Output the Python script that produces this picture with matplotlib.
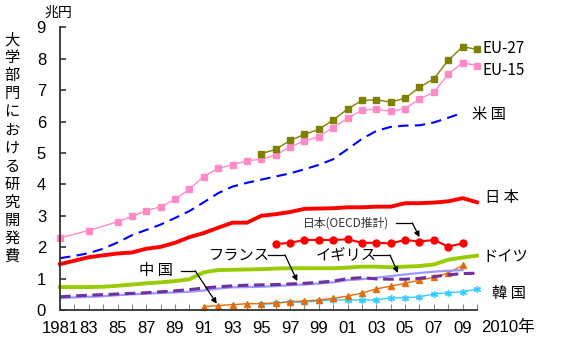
import matplotlib
matplotlib.use("Agg")
import matplotlib.pyplot as plt

plt.rcParams['font.family'] = ['Noto Sans CJK JP', 'DejaVu Sans']
NUM_FONT = ['Liberation Sans Narrow', 'Liberation Sans', 'Noto Sans CJK JP']

# --- data (兆円) ---
eu15_years = [1981, 1983] + list(range(1985, 2011))
eu15 = [2.30, 2.53, 2.81, 2.98, 3.16, 3.29, 3.52, 3.85, 4.25, 4.51, 4.62, 4.75, 4.80, 4.93,
        5.19, 5.38, 5.52, 5.81, 6.10, 6.37, 6.39, 6.33, 6.41, 6.72, 6.93, 7.51, 7.87, 7.78]

eu27_years = list(range(1995, 2011))
eu27 = [4.98, 5.11, 5.40, 5.59, 5.75, 6.05, 6.40, 6.67, 6.69, 6.62, 6.74, 7.09, 7.36, 7.95, 8.38, 8.30]

us_years = list(range(1981, 2010))
us = [1.65, 1.72, 1.81, 1.95, 2.15, 2.38, 2.55, 2.72, 2.93, 3.15, 3.43, 3.72, 3.93, 4.05, 4.15,
      4.25, 4.35, 4.48, 4.62, 4.80, 5.12, 5.45, 5.70, 5.83, 5.87, 5.88, 5.97, 6.12, 6.28]

jp_years = list(range(1981, 2011))
jp = [1.46, 1.57, 1.68, 1.74, 1.80, 1.83, 1.95, 2.01, 2.14, 2.32, 2.45, 2.62, 2.78, 2.78, 3.00,
      3.05, 3.12, 3.22, 3.23, 3.24, 3.27, 3.27, 3.29, 3.29, 3.40, 3.40, 3.42, 3.46, 3.56, 3.43]

jp_oecd_years = list(range(1996, 2010))
jp_oecd = [2.10, 2.14, 2.23, 2.23, 2.23, 2.25, 2.14, 2.14, 2.12, 2.23, 2.18, 2.23, 2.02, 2.12]

de_years = list(range(1981, 2011))
de = [0.73, 0.73, 0.73, 0.74, 0.77, 0.81, 0.85, 0.88, 0.92, 0.98, 1.20, 1.27, 1.28, 1.29, 1.30,
      1.32, 1.33, 1.33, 1.33, 1.33, 1.35, 1.38, 1.38, 1.36, 1.38, 1.40, 1.45, 1.60, 1.67, 1.73]

fr_years = list(range(1981, 2011))
fr = [0.42, 0.45, 0.47, 0.49, 0.51, 0.53, 0.55, 0.58, 0.61, 0.65, 0.70, 0.74, 0.77, 0.79, 0.80,
      0.81, 0.83, 0.85, 0.88, 0.92, 1.00, 1.03, 0.99, 0.98, 0.98, 1.01, 1.06, 1.12, 1.16, 1.17]

uk_years = list(range(1981, 2010))
uk = [0.38, 0.40, 0.42, 0.44, 0.47, 0.50, 0.52, 0.54, 0.56, 0.58, 0.62, 0.68, 0.72, 0.73, 0.74,
      0.76, 0.79, 0.81, 0.84, 0.88, 0.95, 0.98, 1.03, 1.08, 1.13, 1.18, 1.22, 1.25, 1.27]

cn_years = list(range(1991, 2010))
cn = [0.11, 0.14, 0.17, 0.20, 0.20, 0.23, 0.26, 0.29, 0.32, 0.37, 0.44, 0.54, 0.67, 0.76, 0.85,
      0.95, 1.04, 1.18, 1.42]

kr_years = list(range(1995, 2011))
kr = [0.18, 0.21, 0.26, 0.24, 0.29, 0.32, 0.32, 0.32, 0.32, 0.39, 0.39, 0.42, 0.51, 0.55, 0.58, 0.66]

xtick_years = list(range(1981, 2010, 2))
xtick_labels = ["1981"] + [f"{y % 100:02d}" for y in xtick_years[1:]]

fig = plt.figure(figsize=(5.7, 3.5), dpi=100)
ax = fig.add_axes([60 / 570, 40 / 350, 417 / 570, 282.7 / 350])

kw = dict(clip_on=False)
ax.plot(kr_years, kr, color="#33CCFF", lw=1, marker=(6, 2, 0), ms=5, mew=1, **kw)
ax.plot(cn_years, cn, color="#E46C0A", lw=1, marker="^", ms=4.5, **kw)
ax.plot(uk_years, uk, color="#9999FF", lw=1.6, **kw)
ax.plot(fr_years, fr, color="#7030A0", lw=2.2, dashes=(3.5, 1.8), **kw)
ax.plot(de_years, de, color="#99CC00", lw=2.8, **kw)
ax.plot(jp_oecd_years, jp_oecd, color="#FF0000", lw=1.5, marker="o", ms=5, **kw)
ax.plot(jp_years, jp, color="#FF0000", lw=2.8, **kw)
ax.plot(us_years, us, color="#0000FF", lw=1.5, dashes=(5, 3), **kw)
ax.plot(eu15_years, eu15, color="#FF8AC8", lw=1, marker="s", ms=4.2, **kw)
ax.plot(eu27_years, eu27, color="#808000", lw=1, marker="s", ms=4.5, **kw)

ax.set_xlim(1981, 2010)
ax.set_ylim(0, 9)
ax.set_yticks(range(10))
ax.set_xticks(xtick_years)
ax.set_xticklabels(xtick_labels)
ax.set_xticks(range(1981, 2011), minor=True)
for s in ("top", "right"):
    ax.spines[s].set_visible(False)
for s in ("left", "bottom"):
    ax.spines[s].set_color("#333333")
    ax.spines[s].set_linewidth(1.3)
ax.tick_params(axis="y", direction="in", length=4, width=1.2, color="#333333",
               labelsize=12, pad=10)
ax.tick_params(axis="x", which="both", direction="in", length=4, width=0.8, color="#888888",
               labelsize=12, pad=8)
for t in ax.get_xticklabels() + ax.get_yticklabels():
    t.set_family(NUM_FONT)

# series labels
lbl = dict(fontsize=11, va="center")
ax.text(2010.4, 8.34, "EU-27", ha="left", **lbl)
ax.text(2010.4, 7.61, "EU-15", ha="left", **lbl)
ax.text(2010.85, 6.21, "米 国", ha="center", **lbl)
ax.text(2011.7, 3.57, "日 本", ha="center", **lbl)
ax.text(2012.0, 1.69, "ドイツ", ha="center", **lbl)
ax.text(2012.2, 0.54, "韓 国", ha="center", **lbl)
ax.text(2010.3, -0.57, "2010年", ha="left", fontsize=12, va="center", family=NUM_FONT)

ax.text(2000.9, 2.77, "日本(OECD推計)", ha="center", va="center", fontsize=8.5, color="#333333")
ax.text(1993.45, 1.75, "フランス", ha="center", **lbl)
ax.text(2000.9, 1.75, "イギリス", ha="center", **lbl)
ax.text(1987.7, 1.27, "中 国", ha="center", **lbl)

# leader arrows: (start, bend, end)
arrows = [((1989.4, 1.25), (1990.4, 1.25), (1991.9, 0.20)),
          ((1995.5, 1.75), (1996.65, 1.75), (1997.5, 0.92)),
          ((2002.8, 1.75), (2003.95, 1.75), (2004.5, 1.18)),
          ((2004.4, 2.77), (2005.5, 2.77), (2006.0, 2.32))]
for start, bend, end in arrows:
    ax.plot([start[0], bend[0]], [start[1], bend[1]], color="black", lw=0.9)
    ax.annotate("", xy=end, xytext=bend,
                arrowprops=dict(arrowstyle="-|>", color="black", lw=0.9,
                                mutation_scale=8, shrinkA=0, shrinkB=0))

fig.text(58 / 570, 1 - 13 / 350, "兆円", ha="center", va="center", fontsize=10)
fig.text(12 / 570, 1 - 148 / 350, "\n".join("大学部門における研究開発費"),
         ha="center", va="center", fontsize=11, linespacing=1.08)

fig.savefig("out.png", dpi=100)
